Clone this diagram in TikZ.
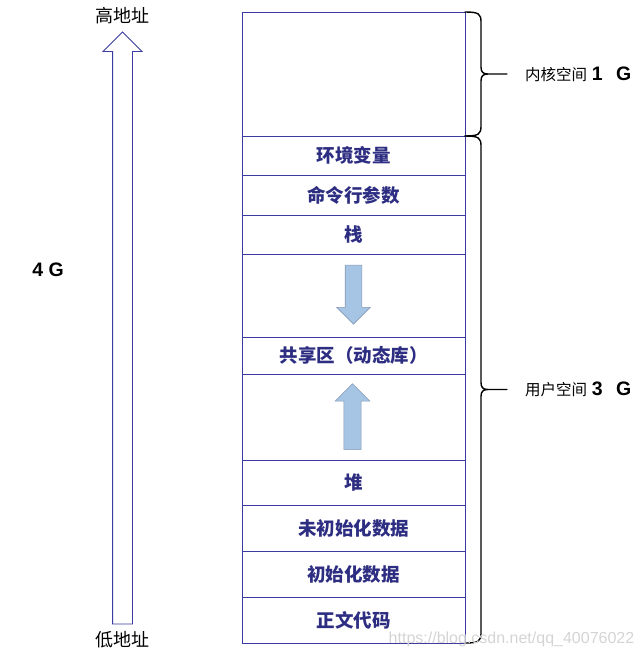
\documentclass[tikz,border=0pt]{standalone}
\usepackage{fontspec}
\setmainfont{Liberation Sans}
\newfontfamily\cjk{Noto Sans CJK SC}
\usetikzlibrary{positioning,calc,shapes.arrows}

\definecolor{boxline}{RGB}{58,58,160}
\definecolor{boxtext}{RGB}{45,45,130}
\definecolor{arrowfill}{RGB}{166,196,227}
\definecolor{arrowedge}{RGB}{135,155,185}
\definecolor{markgray}{RGB}{212,212,212}

\newcommand{\sidenum}{\rmfamily\bfseries\fontsize{19.5pt}{21pt}\selectfont}

\tikzset{
  seg/.style={draw=boxline, line width=0.8pt, minimum width=223pt, inner sep=0pt, outer sep=0pt,
    text=boxtext, font=\cjk\bfseries\fontsize{18.5pt}{20pt}\selectfont},
  growarrow/.style={single arrow, draw=arrowedge, line width=0.6pt, fill=arrowfill, inner sep=8pt,
    minimum width=33pt, single arrow head extend=8.5pt},
  membrace/.style={line width=1.4pt, line cap=round},
  side/.style={anchor=west, inner sep=0pt, font=\cjk\fontsize{15.5pt}{17pt}\selectfont},
  addrlbl/.style={inner sep=0pt, font=\cjk\fontsize{18pt}{20pt}\selectfont},
}

% brace on the right of a block: #1 top, #2 bottom, #3 name of the tip
\newcommand{\spanbrace}[3]{%
  \draw[membrace] let \p1=(#1), \p2=(#2), \n1={0.5*(\y1+\y2)} in
    (\x1,\y1) .. controls (\x1+14pt,\y1) and (\x1+16pt,\y1-2pt) .. (\x1+16pt,\y1-10pt)
    -- (\x1+16pt,\n1+7pt) .. controls (\x1+16pt,\n1+2pt) and (\x1+18pt,\n1) .. (\x1+23pt,\n1)
    -- (\x1+42pt,\n1) coordinate (#3)
    (\x1+23pt,\n1) .. controls (\x1+18pt,\n1) and (\x1+16pt,\n1-2pt) .. (\x1+16pt,\n1-7pt)
    -- (\x2+16pt,\y2+10pt) .. controls (\x2+16pt,\y2+2pt) and (\x2+14pt,\y2) .. (\x2,\y2);
}

\begin{document}
\begin{tikzpicture}[x=1pt, y=-1pt]
    \useasboundingbox (0,0) rectangle (643,657);

    % memory blocks, top to bottom
    \node [seg, minimum height=124pt, anchor=north west] (kernel) at (242,12) {};
    \node [seg, minimum height=39pt, below=0pt of kernel] (env) {环境变量};
    \node [seg, minimum height=40pt, below=0pt of env] (args) {命令行参数};
    \node [seg, minimum height=39pt, below=0pt of args] (stack) {栈};
    \node [seg, minimum height=83pt, below=0pt of stack] (gapa) {};
    \node [seg, minimum height=37pt, below=0pt of gapa] (shared) {共享区（动态库）};
    \node [seg, minimum height=86pt, below=0pt of shared] (gapb) {};
    \node [seg, minimum height=45pt, below=0pt of gapb] (heap) {堆};
    \node [seg, minimum height=46pt, below=0pt of heap] (bss) {未初始化数据};
    \node [seg, minimum height=46pt, below=0pt of bss] (data) {初始化数据};
    \node [seg, minimum height=46pt, below=0pt of data] (text) {正文代码};

    % growth arrows
    \node [growarrow, minimum height=59pt, rotate=-90] (down) at ($(gapa.center)+(0,-5)$) {};
    \node [growarrow, minimum height=66pt, rotate=90, minimum width=35pt] (up) at ($(gapb.center)+(-1,4)$) {};

    % address arrow
    \node [single arrow, draw=boxline, line width=0.9pt, inner sep=9.5pt, minimum width=38pt,
      single arrow head extend=9.5pt, minimum height=592pt, rotate=90] (addr) at (122.5,333) {};
    \node [addrlbl] (high) at (122.5,16) {高地址};
    \node [addrlbl] (low) at (122.5,640) {低地址};
    \node [font=\bfseries\fontsize{19.5pt}{21pt}\selectfont] (total) at (48,270) {4 G};

    % spaces
    \spanbrace{kernel.north east}{kernel.south east}{ktip}
    \spanbrace{env.north east}{text.south east}{utip}
    \node [side, right=18pt of ktip] (kspace) {内核空间\hspace{0.3em}{\sidenum 1\hspace{8pt} G}};
    \node [side, right=18pt of utip] (uspace) {用户空间\hspace{0.3em}{\sidenum 3\hspace{8pt} G}};

    % watermark
    \node [anchor=base, inner sep=0pt, text=markgray, font=\fontsize{16pt}{18pt}\selectfont] (mark) at (511.5,643) {https://blog.csdn.net/qq\_40076022};
\end{tikzpicture}
\end{document}
